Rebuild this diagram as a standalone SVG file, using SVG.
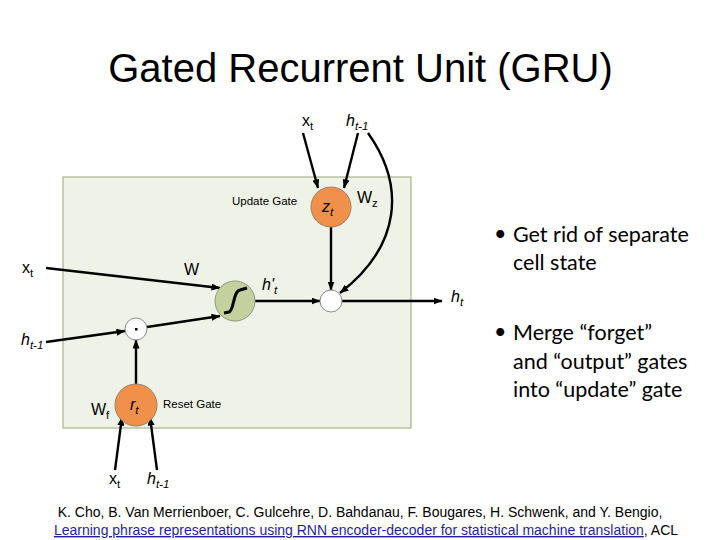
<svg xmlns="http://www.w3.org/2000/svg" width="720" height="540" viewBox="0 0 720 540">
<defs>
<marker id="ah" markerWidth="9" markerHeight="7" refX="8.5" refY="3.5" orient="auto" markerUnits="userSpaceOnUse">
<path d="M0,0 L9,3.5 L0,7 Z" fill="#000"/>
</marker>
<style>
.lbl{font-family:"Liberation Sans",Arial,sans-serif;font-size:16px;fill:#000}
.sub{font-size:11.5px}
.it{font-style:italic}
.gate{font-family:"Liberation Sans",Arial,sans-serif;font-size:11.5px;fill:#000}
.conn{fill:none;stroke:#000;stroke-width:2.4;marker-end:url(#ah)}
.bul{font-family:Lato,"Open Sans",sans-serif;font-size:21.5px;fill:#000}
.ref{font-family:"Liberation Sans",Arial,sans-serif;font-size:14px;fill:#000}
</style>
</defs>
<rect width="720" height="540" fill="#fff"/>
<text x="360.5" y="82" text-anchor="middle" font-family="Liberation Sans, Arial, sans-serif" font-size="40" fill="#000">Gated Recurrent Unit (GRU)</text>

<rect id="cell" x="63" y="177" width="348" height="251" fill="#eff2e6" stroke="#a9b48d" stroke-width="1.2"/>

<g id="connectors">
<line class="conn" x1="303" y1="133" x2="318" y2="188"/>
<line class="conn" x1="358" y1="133" x2="344" y2="188"/>
<path class="conn" d="M368,133 C405,185 402,245 340,293"/>
<line class="conn" x1="331" y1="226" x2="331" y2="290"/>
<line class="conn" x1="46" y1="268" x2="220" y2="288"/>
<line class="conn" x1="46" y1="342" x2="125" y2="331"/>
<line class="conn" x1="147" y1="327" x2="220" y2="316"/>
<line class="conn" x1="136" y1="384" x2="136" y2="340"/>
<line class="conn" x1="115" y1="470" x2="122" y2="417"/>
<line class="conn" x1="157" y1="470" x2="150" y2="417"/>
<line class="conn" x1="255" y1="301" x2="320" y2="301"/>
<line class="conn" x1="342" y1="301" x2="442" y2="301"/>
</g>

<g id="update-gate">
<circle cx="331" cy="207" r="20" fill="#f0904a" stroke="#9a8068" stroke-width="1"/>
<text class="lbl it" x="322" y="212">z<tspan class="sub" dy="4">t</tspan></text>
<text class="gate" x="232" y="205">Update Gate</text>
<text class="lbl" x="357" y="203">W<tspan class="sub" dy="4">z</tspan></text>
</g>

<g id="candidate">
<circle cx="235" cy="301" r="20" fill="#c4d09d" stroke="#8f9a80" stroke-width="1"/>
<path d="M224,313 L229,312 C234,311 233,291 240,290 L247,288" fill="none" stroke="#000" stroke-width="3"/>
<text class="lbl" x="184" y="275">W</text>
<text class="lbl it" x="262" y="290">h'<tspan class="sub" dy="4">t</tspan></text>
</g>

<g id="combine">
<circle cx="331" cy="301" r="11" fill="#fff" stroke="#8a8a8a" stroke-width="1"/>
</g>

<g id="reset-mult">
<circle cx="136" cy="329" r="11" fill="#fff" stroke="#8a8a8a" stroke-width="1"/>
<rect x="135" y="328" width="2.5" height="2.5" fill="#000"/>
</g>

<g id="reset-gate">
<circle cx="136" cy="405" r="21" fill="#f0904a" stroke="#9a8068" stroke-width="1"/>
<text class="lbl it" x="130" y="410">r<tspan class="sub" dy="4">t</tspan></text>
<text class="gate" x="163" y="408">Reset Gate</text>
<text class="lbl" x="91" y="415">W<tspan class="sub" dy="4">f</tspan></text>
</g>

<g id="labels">
<text class="lbl" x="302" y="126">x<tspan class="sub" dy="4">t</tspan></text>
<text class="lbl it" x="346" y="126">h<tspan class="sub" dy="4">t-1</tspan></text>
<text class="lbl" x="22" y="273">x<tspan class="sub" dy="4">t</tspan></text>
<text class="lbl it" x="21" y="345">h<tspan class="sub" dy="4">t-1</tspan></text>
<text class="lbl" x="109" y="484">x<tspan class="sub" dy="4">t</tspan></text>
<text class="lbl it" x="147" y="484">h<tspan class="sub" dy="4">t-1</tspan></text>
<text class="lbl it" x="451" y="302">h<tspan class="sub" dy="4">t</tspan></text>
</g>

<g id="bullets">
<text class="bul" x="494" y="241" font-size="17">•</text>
<text class="bul" x="513" y="242">Get rid of separate</text>
<text class="bul" x="513" y="270">cell state</text>
<text class="bul" x="494" y="339" font-size="17">•</text>
<text class="bul" x="513" y="340">Merge “forget”</text>
<text class="bul" x="513" y="369">and “output” gates</text>
<text class="bul" x="513" y="397">into “update” gate</text>
</g>

<g id="reference">
<text class="ref" x="360" y="517" text-anchor="middle">K. Cho, B. Van Merrienboer, C. Gulcehre, D. Bahdanau, F. Bougares, H. Schwenk, and Y. Bengio,</text>
<text class="ref" x="366" y="535" text-anchor="middle"><tspan fill="#1f1fa0" text-decoration="underline">Learning phrase representations using RNN encoder-decoder for statistical machine translation</tspan>, ACL</text>
</g>
</svg>
